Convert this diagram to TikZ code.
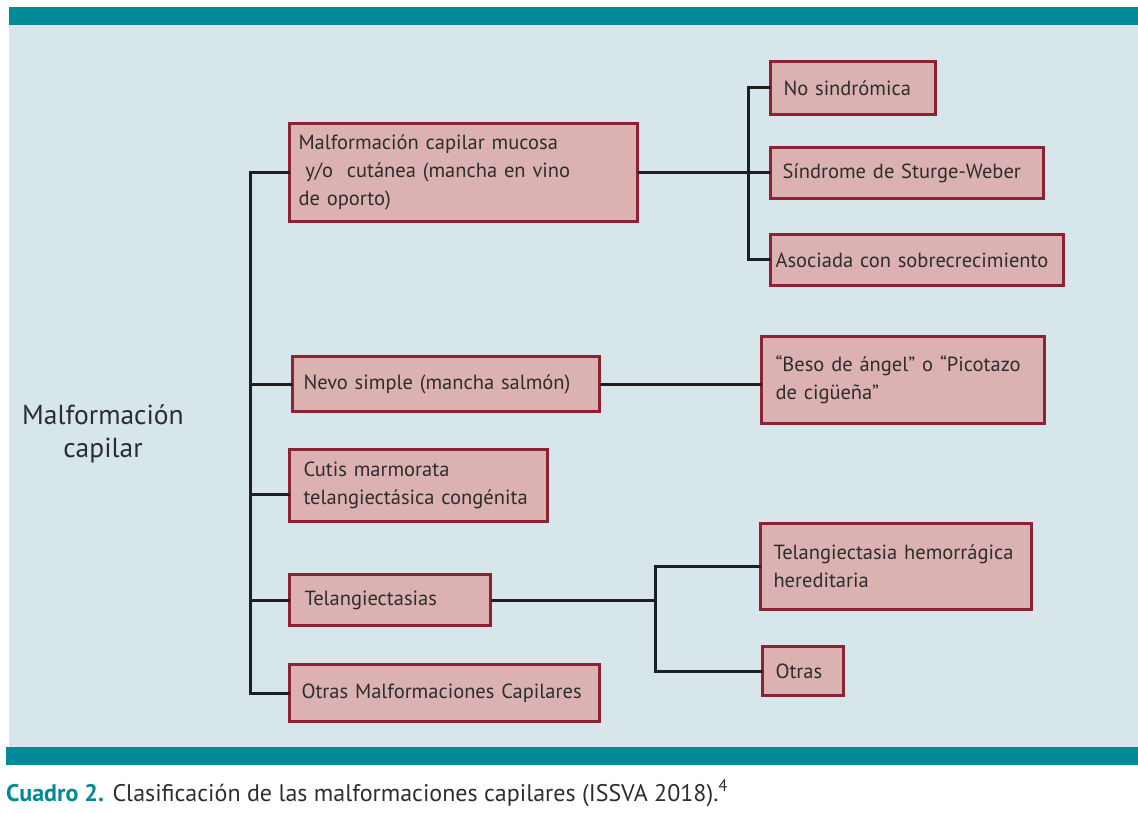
\documentclass[tikz,border=0pt]{standalone}
\usepackage{fontspec}
\setmainfont{PT Sans}
\usetikzlibrary{positioning}
\hyphenpenalty=10000
\exhyphenpenalty=10000

\definecolor{barteal}{RGB}{0,139,150}
\definecolor{panelblue}{RGB}{214,230,234}
\definecolor{boxfill}{RGB}{219,178,177}
\definecolor{boxedge}{RGB}{139,35,53}
\definecolor{inkgray}{RGB}{45,45,45}

\begin{document}
\begin{tikzpicture}[x=1pt, y=-1pt, line cap=rect, line join=miter,
    cbox/.style={draw=boxedge, fill=boxfill, line width=3pt, anchor=north west,
        inner ysep=0pt, align=left, text=inkgray, font=\fontsize{20.5}{28}\selectfont},
    link/.style={draw=black!88, line width=3pt}]

    % Frame
    \useasboundingbox (0,0) rectangle (1138,813);
    \fill[panelblue] (9,25) rectangle (1138,747);
    \fill[barteal] (9,7) rectangle (1138,25);
    \fill[barteal] (6,747) rectangle (1138,765);

    % Root label
    \node[align=center, text=inkgray, font=\fontsize{27.5}{33}\selectfont] (root) at (103,434)
        {Malformación\\capilar};

    % First level
    \node[cbox, inner xsep=9pt, text width=330pt, minimum height=98pt] (mcm) at (288,122)
        {Malformación capilar mucosa\\\ y/o\ \ cutánea (mancha en vino\\de oporto)};
    \node[cbox, inner xsep=11pt, text width=285pt, minimum height=55pt] (nevo) at (291,355)
        {Nevo simple (mancha salmón)};
    \node[cbox, inner xsep=14pt, text width=230pt, minimum height=72pt] (cutis) at (288,448)
        {Cutis marmorata\\telangiectásica congénita};
    \node[cbox, inner xsep=15pt, text width=171pt, minimum height=51pt] (telang) at (288,573)
        {Telangiectasias};
    \node[cbox, inner xsep=12pt, text width=286pt, minimum height=57pt] (otrmal) at (288,663)
        {Otras Malformaciones Capilares};

    % Second level
    \node[cbox, inner xsep=13pt, text width=139pt, minimum height=53pt] (nosind) at (769,60)
        {No sindrómica};
    \node[cbox, inner xsep=12pt, text width=249pt, minimum height=51pt] (sturge) at (769,146)
        {Síndrome de Sturge-Weber};
    \node[cbox, inner xsep=5pt, text width=283pt, minimum height=51pt] (asoc) at (769,233)
        {Asociada con sobrecrecimiento};
    \node[cbox, inner xsep=14pt, text width=255pt, minimum height=87pt] (beso) at (760,335)
        {“Beso de ángel” o “Picotazo\\de cigüeña”};
    \node[cbox, inner xsep=13pt, text width=245pt, minimum height=86pt] (hered) at (759,522)
        {Telangiectasia hemorrágica\\hereditaria};
    \node[cbox, inner xsep=13pt, text width=55pt, minimum height=49pt] (otras) at (761,645)
        {Otras};

    % Trunk
    \coordinate (trunk) at (250,0);
    \coordinate (cutisin) at ([yshift=-9pt]cutis.west);
    \draw[link] (mcm.west) -| (trunk |- otrmal.west) -- (otrmal.west);
    \draw[link] (trunk |- nevo.west) -- (nevo.west);
    \draw[link] (trunk |- cutisin) -- (cutisin);
    \draw[link] (trunk |- telang.west) -- (telang.west);

    % Branches
    \coordinate (br1) at (748,0);
    \draw[link] (nosind.west) -| (br1 |- asoc.west) -- (asoc.west);
    \draw[link] (mcm.east) -- (mcm.east -| sturge.west);
    \draw[link] (nevo.east) -- (nevo.east -| beso.west);
    \coordinate (br2) at (655,0);
    \draw[link] (telang.east) -- (telang.east -| br2);
    \draw[link] (hered.west) -| (br2 |- otras.west) -- (otras.west);

    % Caption
    \node[anchor=base west, inner sep=0pt, text=inkgray, font=\fontsize{24}{28}\selectfont] (caption) at (6,801)
        {\textcolor{barteal}{\bfseries Cuadro 2.} Clasificación de las malformaciones capilares (ISSVA 2018).\textsuperscript{4}};

\end{tikzpicture}
\end{document}
